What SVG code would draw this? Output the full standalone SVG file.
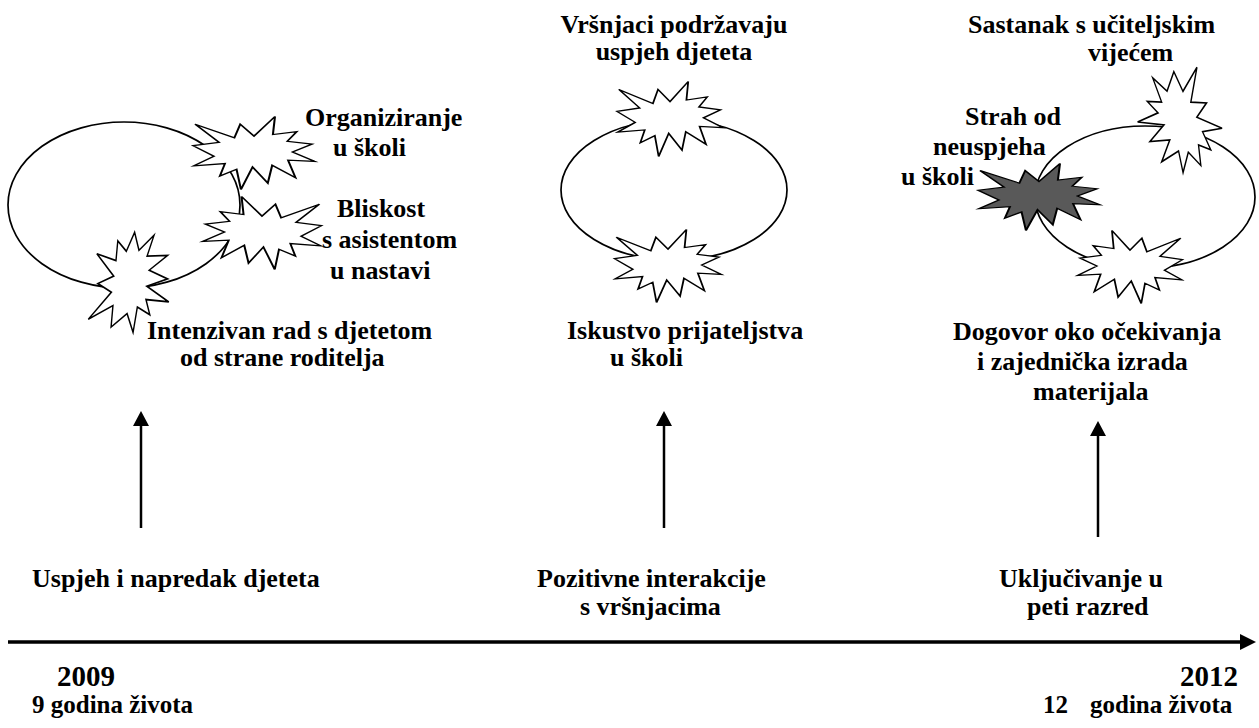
<svg xmlns="http://www.w3.org/2000/svg" xmlns:xlink="http://www.w3.org/1999/xlink" width="1259" height="728" viewBox="0 0 1259 728">
<style>
.t{font-family:"Liberation Serif","Times New Roman",serif;font-weight:bold;font-size:26px;fill:#000}
.m{text-anchor:middle}
.y{font-size:29px}
.s{font-size:25px}
.loop{fill:none;stroke:#000;stroke-width:1.7}
.b{fill:#fff;stroke:#000;stroke-width:1.7;vector-effect:non-scaling-stroke}
.dk{fill:#595959}
.ar{fill:none;stroke:#000;stroke-width:2.5}
.tl{fill:none;stroke:#000;stroke-width:3.5}
</style>
<defs>
<path id="burst" d="M50,26.9 L67.2,0 L65.5,24.7 L85.1,20.6 L77.3,33.9 L97.7,37.7 L81.5,48.5 L100,61.5 L77.9,59.9 L84,83.8 L64.9,66.9 L61.3,91.3 L48.8,69.1 L39.3,100 L35.7,72.3 L22,81.6 L26.2,64.5 L0.6,67.5 L17.2,54.5 L0,39.9 L21.4,35.3 L1.7,10.6 L33.9,29.3 L38.7,10.6 Z"/>
<marker id="ah" markerUnits="userSpaceOnUse" markerWidth="15" markerHeight="16" viewBox="0 0 15 16" refX="1" refY="8" orient="auto"><path d="M0,0 L15,8 L0,16 Z" fill="#000"/></marker>
<marker id="ah2" markerUnits="userSpaceOnUse" markerWidth="16" markerHeight="16" viewBox="0 0 16 16" refX="1" refY="8" orient="auto"><path d="M0,0 L16,8 L0,16 Z" fill="#000"/></marker>
</defs>

<g id="connectors">
<line class="ar" x1="141" y1="528" x2="141" y2="425" marker-end="url(#ah)"/>
<line class="ar" x1="664" y1="528" x2="664" y2="425" marker-end="url(#ah)"/>
<line class="ar" x1="1098" y1="537" x2="1098" y2="435" marker-end="url(#ah)"/>
<line class="tl" x1="8" y1="642" x2="1241" y2="642" marker-end="url(#ah2)"/>
</g>

<g id="loop-left">
<ellipse class="loop" cx="124" cy="205" rx="116" ry="83"/>
<g id="burst-organiziranje"><use href="#burst" class="b" transform="translate(254,153) scale(1.22,0.73) translate(-50,-50)"/></g>
<g id="burst-bliskost"><use href="#burst" class="b" transform="translate(262,233) scale(-1.19,0.73) translate(-50,-50)"/></g>
<g id="burst-intenzivan"><use href="#burst" class="b" transform="translate(132,281) rotate(-75) scale(1.0,0.82) translate(-50,-50)"/></g>
<text class="t" x="305" y="126">Organiziranje</text>
<text class="t" x="333" y="156">u školi</text>
<text class="t" x="337" y="217">Bliskost</text>
<text class="t" x="322" y="248">s asistentom</text>
<text class="t" x="330" y="279">u nastavi</text>
<text class="t" x="147" y="339">Intenzivan rad s djetetom</text>
<text class="t" x="180" y="366">od strane roditelja</text>
</g>

<g id="loop-middle">
<ellipse class="loop" cx="674" cy="190" rx="113" ry="70"/>
<g id="burst-vrsnjaci"><use href="#burst" class="b" transform="translate(670,119) scale(1.06,0.75) translate(-50,-50)"/></g>
<g id="burst-iskustvo"><use href="#burst" class="b" transform="translate(668,266) scale(1.07,0.73) translate(-50,-50)"/></g>
<text class="t m" x="674" y="33">Vršnjaci podržavaju</text>
<text class="t m" x="674" y="60">uspjeh djeteta</text>
<text class="t" x="567" y="339">Iskustvo prijateljstva</text>
<text class="t" x="610" y="366">u školi</text>
</g>

<g id="loop-right">
<ellipse class="loop" cx="1145" cy="197" rx="110" ry="71"/>
<g id="burst-sastanak"><use href="#burst" class="b" transform="translate(1179,122) rotate(75) scale(1.0,0.8) translate(-50,-50)"/></g>
<g id="burst-strah"><use href="#burst" class="b dk" transform="translate(1039,197) scale(1.22,0.67) translate(-50,-50)"/></g>
<g id="burst-dogovor"><use href="#burst" class="b" transform="translate(1130,267) scale(-1.05,0.73) translate(-50,-50)"/></g>
<text class="t" x="968" y="33">Sastanak s učiteljskim</text>
<text class="t" x="1088" y="61">vijećem</text>
<text class="t" x="965" y="125">Strah od</text>
<text class="t" x="933" y="155">neuspjeha</text>
<text class="t" x="901" y="185">u školi</text>
<text class="t" x="953" y="340">Dogovor oko očekivanja</text>
<text class="t" x="977" y="370">i zajednička izrada</text>
<text class="t" x="1033" y="400">materijala</text>
</g>

<g id="events">
<text class="t" x="32" y="587">Uspjeh i napredak djeteta</text>
<text class="t" x="537" y="587">Pozitivne interakcije</text>
<text class="t" x="580" y="615">s vršnjacima</text>
<text class="t" x="999" y="587">Uključivanje u</text>
<text class="t" x="1027" y="615">peti razred</text>
</g>

<g id="timeline-labels">
<text class="t y" x="57" y="686">2009</text>
<text class="t s" x="32" y="713">9 godina života</text>
<text class="t y" x="1180" y="686">2012</text>
<text class="t s" y="713"><tspan x="1043">12</tspan><tspan x="1090">godina života</tspan></text>
</g>
</svg>
